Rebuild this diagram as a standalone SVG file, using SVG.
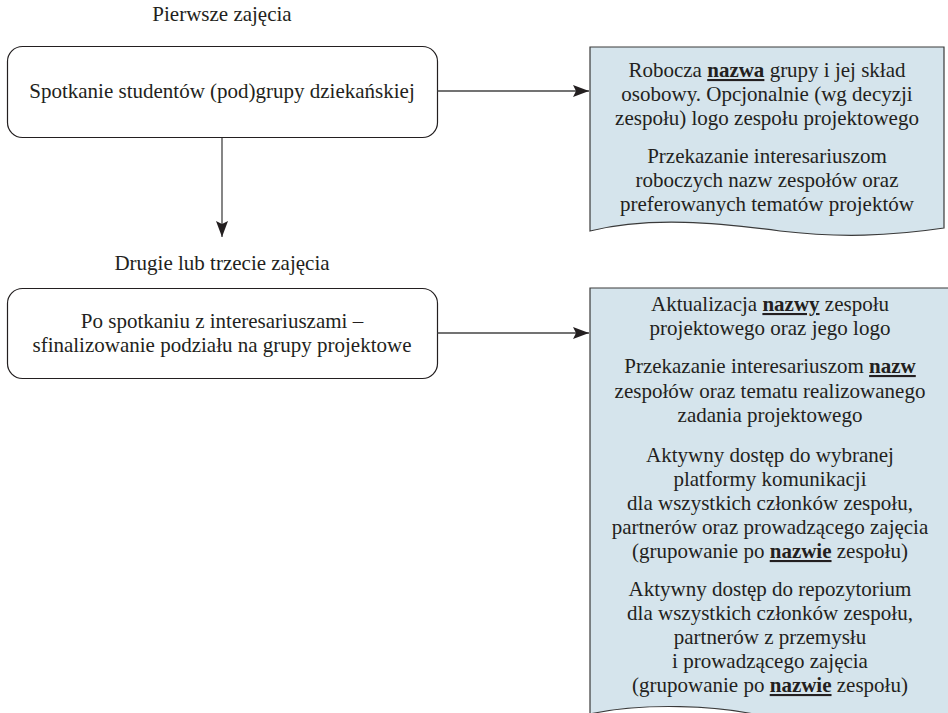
<svg xmlns="http://www.w3.org/2000/svg" width="948" height="713" viewBox="0 0 948 713">
  <defs>
    <style>
      .t { font-family: "Liberation Serif", "Times New Roman", serif; font-size: 21px; fill: #231f20; text-anchor: middle; }
      .b { font-weight: bold; text-decoration: underline; }
      .box { fill: #ffffff; stroke: #231f20; stroke-width: 1.2; }
      .doc { fill: #d5e4ec; stroke: #3a3a3a; stroke-width: 1.2; }
      .wire { fill: none; stroke: #444; stroke-width: 1.3; }
    </style>
    <marker id="arrow" viewBox="0 0 16 12" refX="16" refY="6" markerWidth="16" markerHeight="12" markerUnits="userSpaceOnUse" orient="auto">
      <path d="M0,0 L16,6 L0,12 L3,6 Z" fill="#231f20"/>
    </marker>
  </defs>

  <rect width="948" height="713" fill="#ffffff"/>

  <!-- session labels -->
  <text class="t" x="222" y="21">Pierwsze zajęcia</text>
  <text class="t" x="222" y="270">Drugie lub trzecie zajęcia</text>

  <!-- step 1 -->
  <g id="step1">
    <rect class="box" x="7.5" y="46.5" width="430" height="91" rx="15"/>
    <text class="t" x="222" y="98">Spotkanie studentów (pod)grupy dziekańskiej</text>
  </g>

  <!-- outcome 1 -->
  <g id="outcome1">
    <path class="doc" d="M590,47 H944 V228 C890,236 840,238 780,231 C720,223 650,216 590,231 Z"/>
    <text class="t" x="767" y="77">Robocza <tspan class="b">nazwa</tspan> grupy i jej skład</text>
    <text class="t" x="767" y="101">osobowy. Opcjonalnie (wg decyzji</text>
    <text class="t" x="767" y="125">zespołu) logo zespołu projektowego</text>
    <text class="t" x="767" y="163">Przekazanie interesariuszom</text>
    <text class="t" x="767" y="187">roboczych nazw zespołów oraz</text>
    <text class="t" x="767" y="211">preferowanych tematów projektów</text>
  </g>

  <!-- step 2 -->
  <g id="step2">
    <rect class="box" x="7.5" y="288.5" width="430" height="90" rx="15"/>
    <text class="t" x="222" y="328">Po spotkaniu z interesariuszami –</text>
    <text class="t" x="222" y="352">sfinalizowanie podziału na grupy projektowe</text>
  </g>

  <!-- outcome 2 -->
  <g id="outcome2">
    <path class="doc" d="M590,288 H960 V730 L770,718 C720,704 640,703 590,714 Z"/>
    <text class="t" x="770" y="311">Aktualizacja <tspan class="b">nazwy</tspan> zespołu</text>
    <text class="t" x="770" y="335">projektowego oraz jego logo</text>
    <text class="t" x="770" y="373">Przekazanie interesariuszom <tspan class="b">nazw</tspan></text>
    <text class="t" x="770" y="398">zespołów oraz tematu realizowanego</text>
    <text class="t" x="770" y="422">zadania projektowego</text>
    <text class="t" x="770" y="462">Aktywny dostęp do wybranej</text>
    <text class="t" x="770" y="486">platformy komunikacji</text>
    <text class="t" x="770" y="510">dla wszystkich członków zespołu,</text>
    <text class="t" x="770" y="534">partnerów oraz prowadzącego zajęcia</text>
    <text class="t" x="770" y="558">(grupowanie po <tspan class="b">nazwie</tspan> zespołu)</text>
    <text class="t" x="770" y="596">Aktywny dostęp do repozytorium</text>
    <text class="t" x="770" y="620">dla wszystkich członków zespołu,</text>
    <text class="t" x="770" y="644">partnerów z przemysłu</text>
    <text class="t" x="770" y="668">i prowadzącego zajęcia</text>
    <text class="t" x="770" y="692">(grupowanie po <tspan class="b">nazwie</tspan> zespołu)</text>
  </g>

  <!-- connectors -->
  <g id="connectors">
    <line class="wire" x1="437.5" y1="91" x2="589" y2="91" marker-end="url(#arrow)"/>
    <line class="wire" x1="222" y1="138" x2="222" y2="237" marker-end="url(#arrow)"/>
    <line class="wire" x1="437.5" y1="333" x2="589" y2="333" marker-end="url(#arrow)"/>
  </g>
</svg>
